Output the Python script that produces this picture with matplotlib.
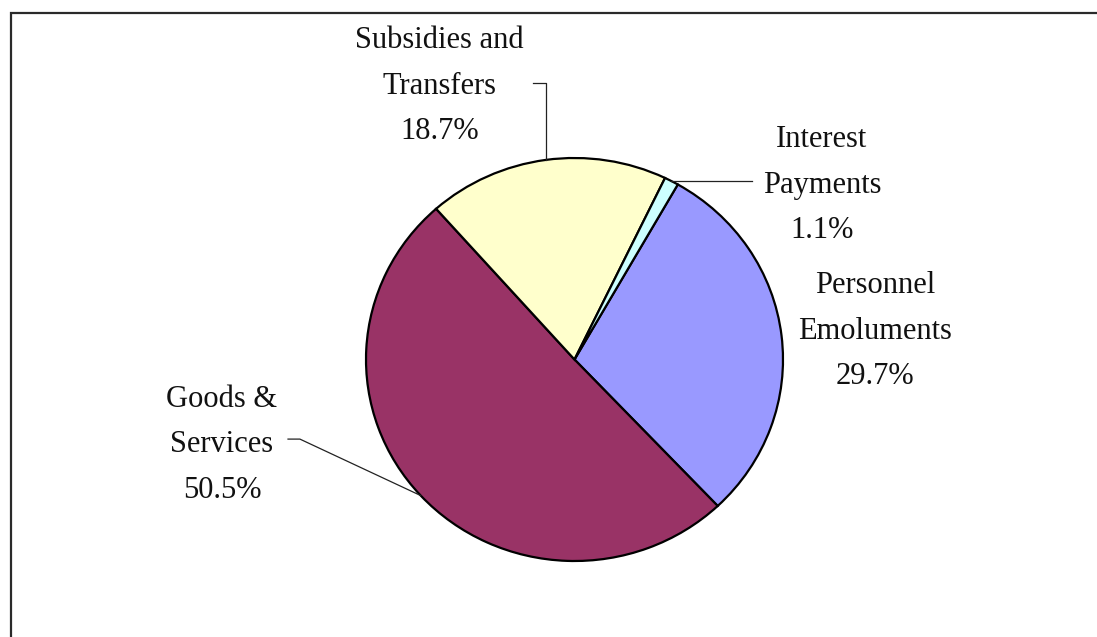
import matplotlib
matplotlib.use("Agg")
import matplotlib.pyplot as plt
import numpy as np
from matplotlib.patches import Rectangle

# Expenditure shares (percent), in the clockwise order drawn
categories = ["Personnel\nEmoluments", "Goods &\nServices", "Subsidies and\nTransfers", "Interest\nPayments"]
shares = [29.7, 50.5, 18.7, 1.1]
colors = ["#9999FF", "#993366", "#FFFFCC", "#CCFFFF"]

W, H = 1097, 637
fig = plt.figure(figsize=(W / 100, H / 100), dpi=100)
fig.patch.set_facecolor("white")

# Outer frame (top and left edges visible, running off the canvas)
fig.add_artist(Rectangle((11 / W, -0.1), 1.2, 1 - 13 / H + 0.1,
                         transform=fig.transFigure, fill=False,
                         edgecolor="#2a2a2a", linewidth=1.6))

# Pie axes (slightly wider than tall)
cx, cy, rx, ry = 574.5, 359.5, 208.5, 201.5
ax = fig.add_axes([(cx - rx) / W, (H - cy - ry) / H, 2 * rx / W, 2 * ry / H])

start = 90 - 29.7
wedges, _ = ax.pie(shares, colors=colors, startangle=start, counterclock=False,
                   radius=1.0, wedgeprops=dict(edgecolor="black", linewidth=1.6))
ax.set_xlim(-1, 1)
ax.set_ylim(-1, 1)
ax.set_aspect("auto")
ax.axis("off")

font = dict(family="Liberation Serif", size=22, color="#111111")

def mid_point(w):
    ang = np.deg2rad((w.theta1 + w.theta2) / 2)
    return np.cos(ang), np.sin(ang)

labels = [f"{c}\n{s:.1f}%" for c, s in zip(categories, shares)]
label_pos = [(1.441, 0.141), (-1.691, -0.424), (-0.646, 1.357), (1.187, 0.866)]

for lab, (tx, ty) in zip(labels, label_pos):
    ax.text(tx, ty, lab, ha="center", va="center", multialignment="center",
            linespacing=1.75, clip_on=False, **font)

# Leader lines
lk = dict(color="#222222", linewidth=0.9, clip_on=False)
mx, my = mid_point(wedges[2])
ax.plot([mx, mx, -0.199], [my, 1.372, 1.372], **lk)
mx, my = mid_point(wedges[3])
ax.plot([mx, 0.851], [my, my], **lk)
mx, my = mid_point(wedges[1])
ax.plot([mx, -1.317, -1.374], [my, -0.395, -0.395], **lk)

fig.savefig("out.png", dpi=100, facecolor="white")
